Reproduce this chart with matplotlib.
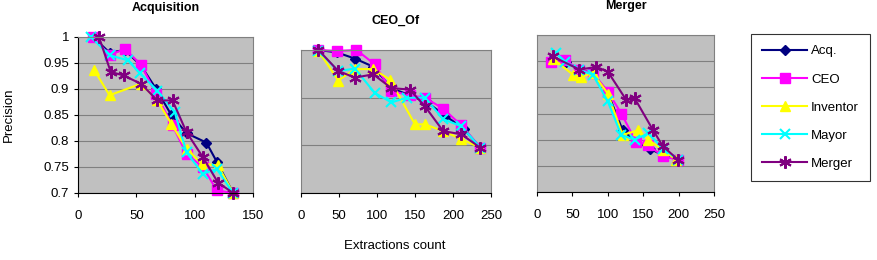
import matplotlib
matplotlib.use("Agg")
import matplotlib.pyplot as plt

plt.rcParams['font.family'] = ['Liberation Sans', 'DejaVu Sans']
plt.rcParams['font.size'] = 9

series = ["Acq.", "CEO", "Inventor", "Mayor", "Merger"]
colors = ["#000080", "#FF00FF", "#FFFF00", "#00FFFF", "#800080"]

# Acquisition panel
acq_x = {
    "Acq.": [13, 27, 40, 54, 67, 80, 93, 110, 119, 133],
    "CEO": [13, 27, 40, 54, 67, 81, 93, 107, 119, 133],
    "Inventor": [14, 27, 54, 68, 80, 93, 106, 120, 133],
    "Mayor": [11, 27, 43, 53, 68, 83, 93, 107, 119, 133],
    "Merger": [18, 28, 39, 54, 68, 81, 93, 107, 120, 133],
}
acq_y = {
    "Acq.": [1.0, 0.97, 0.975, 0.945, 0.90, 0.85, 0.815, 0.797, 0.76, 0.70],
    "CEO": [1.0, 0.965, 0.977, 0.947, 0.89, 0.83, 0.775, 0.75, 0.705, 0.70],
    "Inventor": [0.936, 0.888, 0.91, 0.878, 0.833, 0.785, 0.756, 0.753, 0.70],
    "Mayor": [1.0, 0.965, 0.955, 0.93, 0.897, 0.855, 0.778, 0.737, 0.746, 0.70],
    "Merger": [1.0, 0.933, 0.926, 0.91, 0.878, 0.878, 0.817, 0.769, 0.72, 0.70],
}

# CEO_Of panel
ceo_x = {
    "Acq.": [23, 47, 71, 95, 119, 143, 166, 190, 214, 236],
    "CEO": [23, 47, 73, 97, 119, 143, 163, 187, 211, 236],
    "Inventor": [23, 49, 71, 95, 117, 150, 163, 187, 211, 236],
    "Mayor": [23, 49, 71, 97, 119, 139, 163, 187, 211, 236],
    "Merger": [23, 49, 71, 95, 119, 143, 163, 187, 211, 236],
}
ceo_y = {
    "Acq.": [1.0, 0.995, 0.982, 0.965, 0.92, 0.905, 0.89, 0.862, 0.835, 0.795],
    "CEO": [1.0, 0.998, 1.0, 0.97, 0.914, 0.905, 0.90, 0.877, 0.842, 0.795],
    "Inventor": [0.998, 0.936, 0.96, 0.96, 0.938, 0.844, 0.844, 0.83, 0.813, 0.795],
    "Mayor": [0.998, 0.956, 0.961, 0.91, 0.89, 0.90, 0.90, 0.855, 0.84, 0.795],
    "Merger": [1.0, 0.956, 0.942, 0.949, 0.92, 0.917, 0.882, 0.83, 0.823, 0.795],
}

# Merger panel
mer_x = {
    "Acq.": [20, 41, 60, 79, 100, 121, 140, 159, 178, 199],
    "CEO": [20, 39, 60, 79, 100, 119, 140, 157, 178, 199],
    "Inventor": [22, 51, 62, 79, 100, 121, 143, 157, 178, 197],
    "Mayor": [27, 40, 60, 79, 100, 119, 138, 157, 178, 199],
    "Merger": [22, 60, 84, 100, 126, 138, 164, 178, 199],
}
mer_y = {
    "Acq.": [0.952, 0.949, 0.934, 0.927, 0.89, 0.818, 0.796, 0.783, 0.77, 0.762],
    "CEO": [0.949, 0.952, 0.934, 0.927, 0.892, 0.85, 0.796, 0.79, 0.768, 0.762],
    "Inventor": [0.955, 0.924, 0.92, 0.927, 0.888, 0.809, 0.818, 0.80, 0.78, 0.761],
    "Mayor": [0.965, 0.949, 0.933, 0.924, 0.873, 0.809, 0.80, 0.812, 0.783, 0.762],
    "Merger": [0.959, 0.934, 0.939, 0.93, 0.876, 0.879, 0.818, 0.787, 0.762],
}

markers = {
    "Acq.": dict(marker="D", ms=5.5),
    "CEO": dict(marker="s", ms=7),
    "Inventor": dict(marker="^", ms=7.5),
    "Mayor": dict(marker="x", ms=7, mew=1.5),
    "Merger": dict(marker=(6, 2, 0), ms=9, mew=1.5),
}

fig = plt.figure(figsize=(8.77, 2.6), dpi=100)
ax1 = fig.add_axes([78 / 877, 67 / 260, 175 / 877, 156 / 260])
ax2 = fig.add_axes([301 / 877, 67 / 260, 190 / 877, 143 / 260])
ax3 = fig.add_axes([537 / 877, 68 / 260, 177 / 877, 157 / 260])

panels = [
    (ax1, acq_x, acq_y, "Acquisition", 150, [0.7, 0.75, 0.8, 0.85, 0.9, 0.95, 1.0]),
    (ax2, ceo_x, ceo_y, "CEO_Of", 250, [0.7, 0.8, 0.9, 1.0]),
    (ax3, mer_x, mer_y, "Merger", 250, [0.7, 0.75, 0.8, 0.85, 0.9, 0.95, 1.0]),
]

for i, (ax, xs, ys, title, xmax, yt) in enumerate(panels):
    ax.set_facecolor("#C0C0C0")
    for name, c in zip(series, colors):
        ax.plot(xs[name], ys[name], color=c, lw=1.5, mfc=c, mec=c,
                label=name, clip_on=False, **markers[name])
    ax.set_xlim(0, xmax)
    ax.set_ylim(0.7, 1.0)
    ax.set_xticks(range(0, xmax + 1, 50))
    ax.set_yticks(yt)
    ax.grid(axis="y", color="#808080", lw=0.8)
    ax.set_axisbelow(True)
    for s in ["top", "right", "left"]:
        ax.spines[s].set_color("#808080")
    ax.spines["bottom"].set_color("black")
    ax.tick_params(axis="x", direction="out", length=3, labelsize=9.5, pad=9)
    ax.set_title(title, fontsize=9, fontweight="bold", pad=19)
    if i == 0:
        ax.spines["left"].set_color("black")
        ax.yaxis.set_major_formatter(plt.FuncFormatter(lambda v, p: f"{v:g}"))
        ax.tick_params(axis="y", direction="out", length=3, labelsize=9.5)
        ax.set_ylabel("Precision", fontsize=9.5)
        ax.yaxis.set_label_coords(-63 / 175, 0.5)
    else:
        ax.tick_params(axis="y", left=False, labelleft=False)

fig.text(395 / 877, 1 - 246 / 260, "Extractions count", ha="center", va="center", fontsize=9.5)

handles, labels = ax1.get_legend_handles_labels()
leg = fig.legend(handles, labels, loc="center", bbox_to_anchor=(747 / 877, 80 / 260, 127 / 877, 145 / 260),
                 frameon=True, fancybox=False, edgecolor="black", fontsize=9.5,
                 handlelength=3.4, labelspacing=1.2, borderpad=0.85, handletextpad=0.3,
                 borderaxespad=0)
leg.get_frame().set_linewidth(0.8)

fig.savefig("out.png", dpi=100)
